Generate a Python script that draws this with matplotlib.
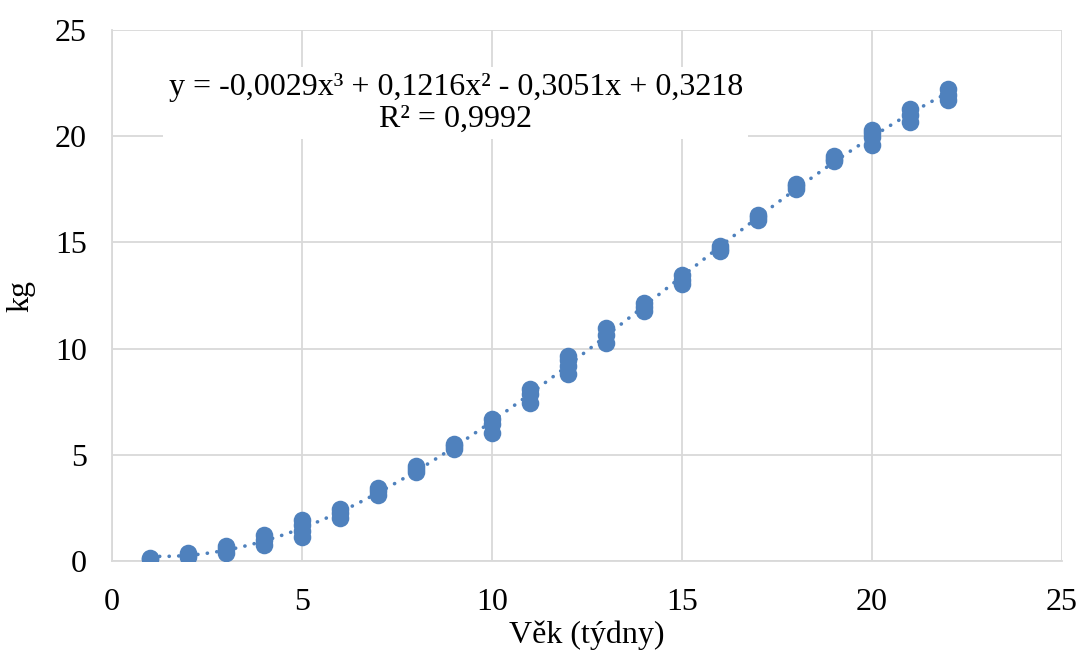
import numpy as np
import matplotlib
matplotlib.use("Agg")
import matplotlib.pyplot as plt

plt.rcParams['font.family'] = ['Liberation Serif', 'DejaVu Serif']

# weight readings (kg) per week of age
weeks = [1, 1, 2, 2, 2, 3, 3, 3, 4, 4, 4, 5, 5, 5, 5, 6, 6, 6, 7, 7, 7,
         8, 8, 8, 9, 9, 9, 10, 10, 10, 11, 11, 11, 12, 12, 12, 12,
         13, 13, 13, 14, 14, 14, 15, 15, 15, 16, 16, 16, 17, 17, 17,
         18, 18, 18, 19, 19, 19, 20, 20, 20, 20, 21, 21, 21, 22, 22, 22]
kg = [0.10, 0.14, 0.20, 0.30, 0.40, 0.40, 0.55, 0.70, 0.75, 1.00, 1.25,
      1.15, 1.40, 1.70, 1.95, 2.05, 2.25, 2.45, 3.10, 3.30, 3.45,
      4.20, 4.35, 4.50, 5.30, 5.40, 5.50, 6.05, 6.45, 6.70,
      7.45, 7.85, 8.10, 8.80, 9.20, 9.45, 9.65, 10.25, 10.65, 10.95,
      11.75, 11.95, 12.15, 13.05, 13.25, 13.45, 14.60, 14.70, 14.85,
      16.05, 16.20, 16.30, 17.50, 17.65, 17.75, 18.85, 18.95, 19.05,
      19.60, 19.95, 20.15, 20.30, 20.65, 21.00, 21.30, 21.70, 21.95, 22.20]

eq_text = "y = -0,0029x³ + 0,1216x² - 0,3051x + 0,3218\nR² = 0,9992"
xlabel = "Věk (týdny)"
ylabel = "kg"

blue = "#4f81bd"
grid = "#d9d9d9"

fig = plt.figure(figsize=(10.8, 6.51), dpi=100)
ax = fig.add_axes([0.1037, 0.138, 0.8793, 0.816])

ax.scatter(weeks, kg, s=160, color=blue, zorder=3, linewidths=0)

# cubic trendline fitted to the points
coef = np.polyfit(weeks, kg, 3)
xs = np.linspace(min(weeks), max(weeks), 300)
ax.plot(xs, np.polyval(coef, xs), color=blue, lw=2.6, ls=(0, (0.05, 2.6)),
        dash_capstyle='round', zorder=2)

ax.set_xlim(0, 25)
ax.set_ylim(0, 25)
ax.set_xticks(range(0, 26, 5))
ax.set_yticks(range(0, 26, 5))
ax.grid(True, color=grid, lw=1.3)
ax.set_axisbelow(True)
ax.tick_params(length=0, labelsize=23)
ax.tick_params(axis='y', pad=18)
ax.tick_params(axis='x', pad=19)
for s in ("top", "right"):
    ax.spines[s].set_visible(False)
for s in ("left", "bottom"):
    ax.spines[s].set_color(grid)
    ax.spines[s].set_linewidth(1.3)

ax.set_xlabel(xlabel, fontsize=23, labelpad=3)
ax.set_ylabel(ylabel, fontsize=23, labelpad=14)

ax.text(9.05, 21.55, eq_text, ha="center", va="center", fontsize=23,
        linespacing=1.15, zorder=4,
        bbox=dict(facecolor="white", edgecolor="none", pad=4))

fig.savefig("out.png", dpi=100)
